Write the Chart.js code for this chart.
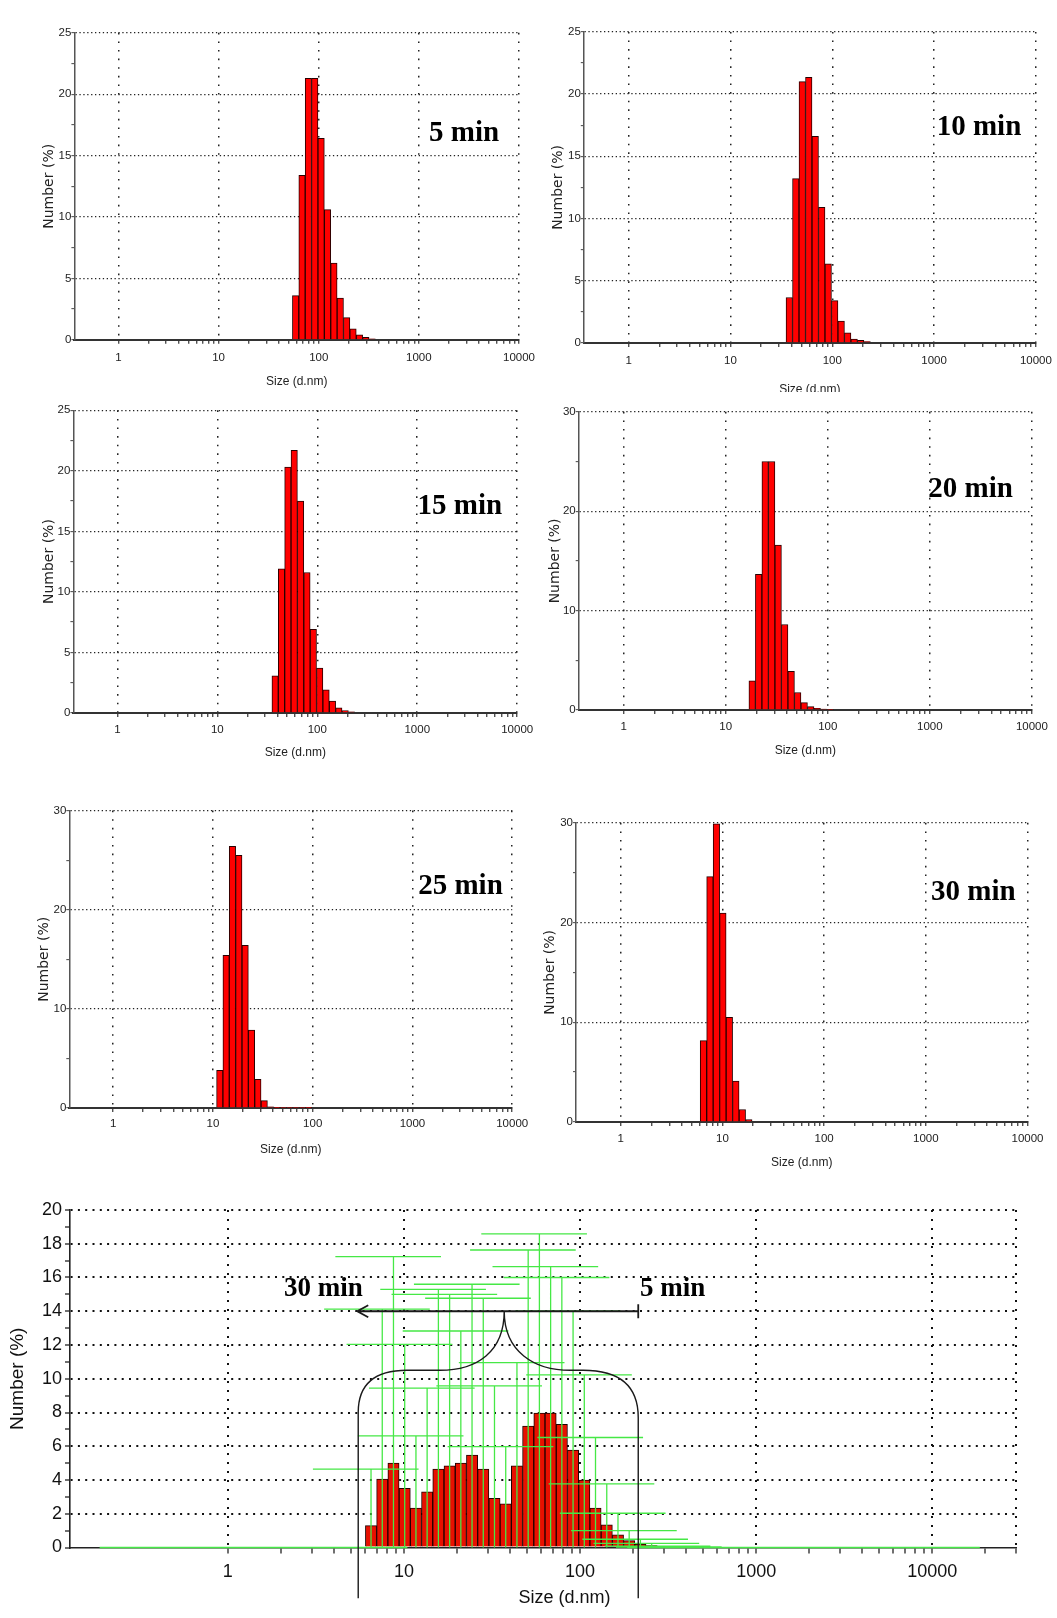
<!DOCTYPE html>
<html>
<head>
<meta charset="utf-8">
<script src="https://cdn.jsdelivr.net/npm/chart.js@4.4.1/dist/chart.umd.min.js"></script>
<style>
    body { margin: 0; width: 1057px; height: 1618px; position: relative; overflow: hidden; background: #fff; }
    canvas { position: absolute; background: #fff; }
</style>
</head>
<body>
<canvas id="chart1"></canvas>
<canvas id="chart2"></canvas>
<canvas id="chart3"></canvas>
<canvas id="chart4"></canvas>
<canvas id="chart5"></canvas>
<canvas id="chart6"></canvas>
<canvas id="chart7"></canvas>
<script>
// clases de tamaño del equipo (d.nm), 70 clases de 0.4 a 10000
const tamanos = [0.4, 0.4632, 0.5365, 0.6213, 0.7195, 0.8332, 0.9649, 1.117, 1.294, 1.499,
    1.736, 2.01, 2.328, 2.696, 3.122, 3.615, 4.187, 4.849, 5.615, 6.503,
    7.531, 8.721, 10.1, 11.7, 13.54, 15.69, 18.17, 21.04, 24.36, 28.21,
    32.67, 37.84, 43.82, 50.75, 58.77, 68.06, 78.82, 91.28, 105.7, 122.4,
    141.8, 164.2, 190.1, 220.2, 255, 295.3, 342, 396.1, 458.7, 531.2,
    615.1, 712.4, 825, 955.4, 1106, 1281, 1484, 1718, 1990, 2305,
    2669, 3091, 3580, 4145, 4801, 5560, 6439, 7456, 8635, 10000];

const etiquetasX = [1, 10, 100, 1000, 10000];
const marcasY25 = [0, 5, 10, 15, 20, 25];
const marcasY30 = [0, 10, 20, 30];
const marcasYTotal = [0, 2, 4, 6, 8, 10, 12, 14, 16, 18, 20];

// Number (%) por tiempo: primera clase con datos y valores siguientes
const inicio5 = 34;
const numero5 = [3.6, 13.4, 21.3, 21.3, 16.4, 10.6, 6.25, 3.4, 1.8, 0.9, 0.4, 0.2, 0.08];
const inicio10 = 31;
const numero10 = [3.65, 13.2, 21.0, 21.35, 16.6, 10.9, 6.35, 3.4, 1.75, 0.8, 0.3, 0.2, 0.1];
const inicio15 = 31;
const numero15 = [3.07, 11.9, 20.3, 21.7, 17.5, 11.6, 6.9, 3.7, 1.9, 0.98, 0.42, 0.2, 0.08];
const inicio20 = 26;
const numero20 = [2.94, 13.66, 25.0, 25.0, 16.6, 8.6, 3.9, 1.76, 0.74, 0.34, 0.17, 0.1, 0.05];
const inicio25 = 23;
const numero25 = [3.8, 15.4, 26.4, 25.5, 16.4, 7.85, 2.9, 0.75, 0.12, 0.04, 0.06, 0.06, 0.06, 0.05, 0.04];
const inicio30 = 19;
const numero30 = [8.16, 24.6, 29.9, 20.96, 10.5, 4.1, 1.25, 0.24];

// gráfico combinado: barras y barras de error verdes
const inicioTotal = 19;
const numeroTotal = [1.3, 4.05, 5.0, 3.5, 2.33, 3.3, 4.64, 4.84, 5.0, 5.47,
    4.64, 2.92, 2.59, 4.84, 7.2, 7.96, 7.96, 7.3, 5.78, 4.0,
    2.33, 1.34, 0.75, 0.41, 0.2, 0.12, 0.06, 0.03];
const errorTotal = [4.64, 14.13, 17.24, 12.04, 6.61, 9.44, 15.3, 15.0, 12.83, 15.6,
    14.77, 9.58, 5.98, 10.96, 17.63, 18.58, 16.64, 16.0, 14.0, 10.23,
    6.52, 3.77, 2.03, 1.0, 0.49, 0.24, 0.08, 0.03];

// llave que agrupa los tiempos (tamaño en nm, Number en %)
const llaveIzq = 5.5, llaveDer = 214, llaveCentro = 37.1;
const llaveHombro = 10.5, llaveCima = 14, llaveBase = -3;

// ancho de la barra de error en décadas y su corrimiento
const MEDIO_ERROR = 0.3;
const CORRIMIENTO_ERROR = -0.03;

const fuenteAngosta = "'Liberation Sans Narrow', 'Liberation Sans', Arial, sans-serif";
const fuenteSerif = "'Liberation Serif', 'DejaVu Serif', serif";
const transparente = 'rgba(0, 0, 0, 0)';

function marcasX(max) {
    const marcas = [];
    for (let d = 1; d <= max; d *= 10) {
        for (let m = 1; m <= 9; m++) {
            if (m * d <= max) marcas.push(m * d);
        }
    }
    return marcas;
}

function serie(inicio, valores) {
    return valores.map((v, k) => ({ x: tamanos[inicio + k], y: v }));
}

function barrasError(inicio, alturas) {
    const puntos = [];
    const ancho = Math.pow(10, MEDIO_ERROR);
    const corrido = Math.pow(10, CORRIMIENTO_ERROR);
    tamanos.forEach((t, i) => {
        const k = i - inicio;
        const h = (k >= 0 && k < alturas.length) ? alturas[k] : 0;
        const c = t * corrido;
        puntos.push({ x: c / ancho, y: h }, { x: c * ancho, y: h }, { x: t, y: null });
        if (h > 0) {
            puntos.push({ x: t, y: h }, { x: t, y: 0 }, { x: t, y: null });
        }
    });
    return puntos;
}

function ubicar(canva, izq, sup, ancho, alto) {
    canva.width = ancho;
    canva.height = alto;
    canva.style.left = izq + 'px';
    canva.style.top = sup + 'px';
}

// textos libres, posicionados respecto al área del gráfico
function rotulos(items) {
    return {
        id: 'rotulos',
        afterDraw(chart) {
            const ctx = chart.ctx;
            const area = chart.chartArea;
            items.forEach((item) => {
                ctx.save();
                ctx.font = item.fuente;
                ctx.fillStyle = item.color || '#000';
                ctx.textAlign = item.alinear || 'left';
                ctx.textBaseline = 'middle';
                ctx.fillText(item.texto, area.left + item.x, area.top + item.y);
                ctx.restore();
            });
        }
    };
}

const llave = {
    id: 'llave',
    afterDatasetsDraw(chart) {
        const ctx = chart.ctx;
        const px = (v) => chart.scales.x.getPixelForValue(v);
        const py = (v) => chart.scales.y.getPixelForValue(v);
        ctx.save();
        ctx.strokeStyle = '#1a1a1a';
        ctx.lineWidth = 1.4;
        ctx.beginPath();
        ctx.moveTo(px(llaveIzq), py(llaveBase));
        ctx.lineTo(px(llaveIzq), py(8));
        ctx.quadraticCurveTo(px(llaveIzq), py(llaveHombro), px(10.4), py(llaveHombro));
        ctx.lineTo(px(16), py(llaveHombro));
        ctx.bezierCurveTo(px(26), py(llaveHombro), px(llaveCentro), py(11.6), px(llaveCentro), py(llaveCima));
        ctx.bezierCurveTo(px(llaveCentro), py(11.6), px(55), py(llaveHombro), px(88), py(llaveHombro));
        ctx.lineTo(px(104), py(llaveHombro));
        ctx.quadraticCurveTo(px(llaveDer), py(llaveHombro), px(llaveDer), py(7.7));
        ctx.lineTo(px(llaveDer), py(llaveBase));
        ctx.stroke();

        // flecha de 30 min a 5 min
        const xa = px(5.43), xb = px(llaveDer), ya = py(llaveCima);
        ctx.lineWidth = 1.8;
        ctx.beginPath();
        ctx.moveTo(xa, ya);
        ctx.lineTo(xb, ya);
        ctx.moveTo(xa + 11, ya - 6);
        ctx.lineTo(xa, ya);
        ctx.lineTo(xa + 11, ya + 6);
        ctx.moveTo(xb, ya - 7);
        ctx.lineTo(xb, ya + 7);
        ctx.stroke();
        ctx.restore();
    }
};

function panelTiempo(p) {
    const canva = document.getElementById(p.id);
    const tituloY = p.tituloY + (p.ajuste !== undefined ? p.ajuste : -4);
    const izq = Math.round(p.numX - 8.4);
    const sup = Math.round(p.T - (p.arriba || 12));
    const ancho = Math.round(p.R + 34 - izq);
    const alto = Math.round(tituloY + 7.2 - sup);
    ubicar(canva, izq, sup, ancho, alto);

    const fuenteEje = { family: fuenteAngosta, size: 11.5 };
    const fuenteTitulo = { family: fuenteAngosta, size: 12 };

    const config = {
        type: 'bar',
        data: {
            datasets: [{
                data: serie(p.inicio, p.datos),
                backgroundColor: 'rgb(255, 0, 0)',
                borderColor: 'rgb(40, 0, 0)',
                borderWidth: 1,
                borderSkipped: 'start',
                barThickness: 'flex',
                barPercentage: 1,
                categoryPercentage: 1
            }]
        },
        options: {
            responsive: false,
            animation: false,
            devicePixelRatio: 1,
            layout: { padding: { left: 0, right: ancho - (p.R - izq), top: p.T - sup, bottom: 0 } },
            plugins: { legend: { display: false }, tooltip: { enabled: false } },
            scales: {
                x: {
                    type: 'logarithmic',
                    min: 0.363,
                    max: 10000,
                    offset: false,
                    afterBuildTicks: (eje) => { eje.ticks = marcasX(10000).map((v) => ({ value: v })); },
                    afterFit: (eje) => { eje.height = alto - (p.B - sup); },
                    ticks: {
                        autoSkip: false, maxRotation: 0,
                        padding: p.etiquetaY - 6 - p.B - 4 - 5,
                        font: fuenteEje, color: '#222',
                        callback: (v) => etiquetasX.includes(v) ? String(v) : ''
                    },
                    grid: {
                        offset: false, lineWidth: 1.5,
                        color: (c) => (c.tick && etiquetasX.includes(c.tick.value)) ? '#222' : transparente,
                        tickLength: 4, tickColor: '#333', tickWidth: 1.2
                    },
                    border: { display: true, color: '#333', width: 2, dash: [1.6, 7] },
                    title: { display: true, text: 'Size (d.nm)', font: fuenteTitulo, color: '#222', padding: 0 }
                },
                y: {
                    min: 0,
                    max: p.max,
                    afterFit: (eje) => { eje.width = p.L - izq; },
                    ticks: {
                        stepSize: p.paso, autoSkip: false, padding: 0,
                        font: fuenteEje, color: '#222',
                        callback: (v) => p.marcas.includes(v) ? String(v) : ''
                    },
                    grid: {
                        lineWidth: 1.3,
                        color: (c) => (c.tick && c.tick.value > 0 && p.marcas.includes(c.tick.value)) ? '#222' : transparente,
                        tickLength: 3, tickColor: '#444', tickWidth: 1
                    },
                    border: { display: true, color: '#555', width: 1.5, dash: [1.3, 2.6] },
                    title: { display: true, text: 'Number (%)', font: { family: "'DejaVu Sans', sans-serif", size: 14 }, color: '#222', padding: 0 }
                }
            }
        },
        plugins: [rotulos([{ texto: p.texto, x: p.tx - p.L, y: p.ty - p.T, fuente: 'bold 29px ' + fuenteSerif }])]
    };

    const grafico = new Chart(canva, config);
}

function panelTotal() {
    const canva = document.getElementById('chart7');
    const L = 70, R = 1016.3, T = 1210, B = 1547.5, numX = 17;
    const izq = Math.round(numX - 11.4);
    const sup = Math.round(T - 18);
    const ancho = 1057 - izq;
    const alto = 1618 - sup;
    ubicar(canva, izq, sup, ancho, alto);

    const fuenteEje = { family: "'Liberation Sans', Arial, sans-serif", size: 18 };
    const maxX = 30000;

    const config = {
        type: 'bar',
        data: {
            datasets: [{
                type: 'bar',
                order: 1,
                data: serie(inicioTotal, numeroTotal),
                backgroundColor: 'rgb(232, 16, 0)',
                borderColor: 'rgb(30, 0, 0)',
                borderWidth: 1,
                borderSkipped: 'start',
                barThickness: 'flex',
                barPercentage: 1,
                categoryPercentage: 1
            }, {
                type: 'line',
                order: 0,
                data: barrasError(inicioTotal, errorTotal),
                borderColor: 'rgb(70, 232, 70)',
                borderWidth: 1.3,
                pointRadius: 0,
                spanGaps: false,
                fill: false,
                tension: 0,
                clip: 8
            }]
        },
        options: {
            responsive: false,
            animation: false,
            devicePixelRatio: 1,
            layout: { padding: { left: 0, right: ancho - (R - izq), top: T - sup, bottom: 0 } },
            plugins: { legend: { display: false }, tooltip: { enabled: false } },
            scales: {
                x: {
                    type: 'logarithmic',
                    min: 0.127,
                    max: maxX,
                    offset: false,
                    afterBuildTicks: (eje) => { eje.ticks = marcasX(maxX).map((v) => ({ value: v })); },
                    afterFit: (eje) => { eje.height = alto - (B - sup); },
                    ticks: {
                        autoSkip: false, maxRotation: 0, padding: 8,
                        font: fuenteEje, color: '#111',
                        callback: (v) => etiquetasX.includes(v) ? String(v) : ''
                    },
                    grid: {
                        offset: false, lineWidth: 2,
                        color: (c) => (c.tick && (etiquetasX.includes(c.tick.value) || c.tick.value === maxX)) ? '#111' : transparente,
                        tickLength: 6, tickColor: '#222', tickWidth: 1.3
                    },
                    border: { display: true, color: '#222', width: 1.6, dash: [2, 7] },
                    title: { display: false }
                },
                y: {
                    min: 0,
                    max: 20,
                    afterFit: (eje) => { eje.width = L - izq; },
                    ticks: {
                        stepSize: 1, autoSkip: false, padding: 3,
                        font: fuenteEje, color: '#111',
                        callback: (v) => marcasYTotal.includes(v) ? String(v) : ''
                    },
                    grid: {
                        lineWidth: 2,
                        color: (c) => (c.tick && c.tick.value > 0 && marcasYTotal.includes(c.tick.value)) ? '#111' : transparente,
                        tickLength: 5, tickColor: '#222', tickWidth: 1.3
                    },
                    border: { display: true, color: '#222', width: 1.6, dash: [2, 5.3] },
                    title: { display: true, text: 'Number (%)', font: { family: "'Liberation Sans', Arial, sans-serif", size: 19 }, color: '#111', padding: 0 }
                }
            }
        },
        plugins: [llave, rotulos([
            { texto: '30 min', x: 284 - L, y: 1289 - T, fuente: 'bold 27px ' + fuenteSerif },
            { texto: '5 min', x: 640 - L, y: 1289 - T, fuente: 'bold 27px ' + fuenteSerif },
            { texto: 'Size (d.nm)', x: 564.5 - L, y: 1598 - T, fuente: "18px 'Liberation Sans', Arial, sans-serif", alinear: 'center', color: '#111' }
        ])]
    };

    const grafico = new Chart(canva, config);
}

const paneles = [
    { id: 'chart1', L: 74.4, R: 519, T: 32.8, B: 339.8, numX: 49.7, etiquetaY: 361.7, tituloY: 385.4,
      texto: '5 min', tx: 429, ty: 133.5, max: 25, paso: 2.5, marcas: marcasY25, inicio: inicio5, datos: numero5 },
    { id: 'chart2', L: 583.8, R: 1035.9, T: 31.9, B: 342.9, numX: 558.6, etiquetaY: 364.7, tituloY: 390, ajuste: 0,
      texto: '10 min', tx: 936.7, ty: 127.7, max: 25, paso: 2.5, marcas: marcasY25, inicio: inicio10, datos: numero10 },
    { id: 'chart3', L: 73.4, R: 517.2, T: 410.3, B: 712.9, numX: 49, etiquetaY: 734.2, tituloY: 756.8,
      texto: '15 min', tx: 417.5, ty: 506.6, max: 25, paso: 2.5, marcas: marcasY25, inicio: inicio15, datos: numero15 },
    { id: 'chart4', L: 578.7, R: 1031.9, T: 411.8, B: 710, numX: 555.2, etiquetaY: 731.2, tituloY: 754.7, arriba: 20,
      texto: '20 min', tx: 928.3, ty: 489.2, max: 30, paso: 5, marcas: marcasY30, inicio: inicio20, datos: numero20 },
    { id: 'chart5', L: 69.3, R: 512.2, T: 810.6, B: 1108, numX: 44, etiquetaY: 1128.4, tituloY: 1153.7,
      texto: '25 min', tx: 418.2, ty: 886.6, max: 30, paso: 5, marcas: marcasY30, inicio: inicio25, datos: numero25 },
    { id: 'chart6', L: 576, R: 1027.5, T: 822.8, B: 1122, numX: 550.8, etiquetaY: 1143, tituloY: 1166.6,
      texto: '30 min', tx: 931, ty: 892.7, max: 30, paso: 5, marcas: marcasY30, inicio: inicio30, datos: numero30 }
];

paneles.forEach(panelTiempo);
panelTotal();
</script>
</body>
</html>
